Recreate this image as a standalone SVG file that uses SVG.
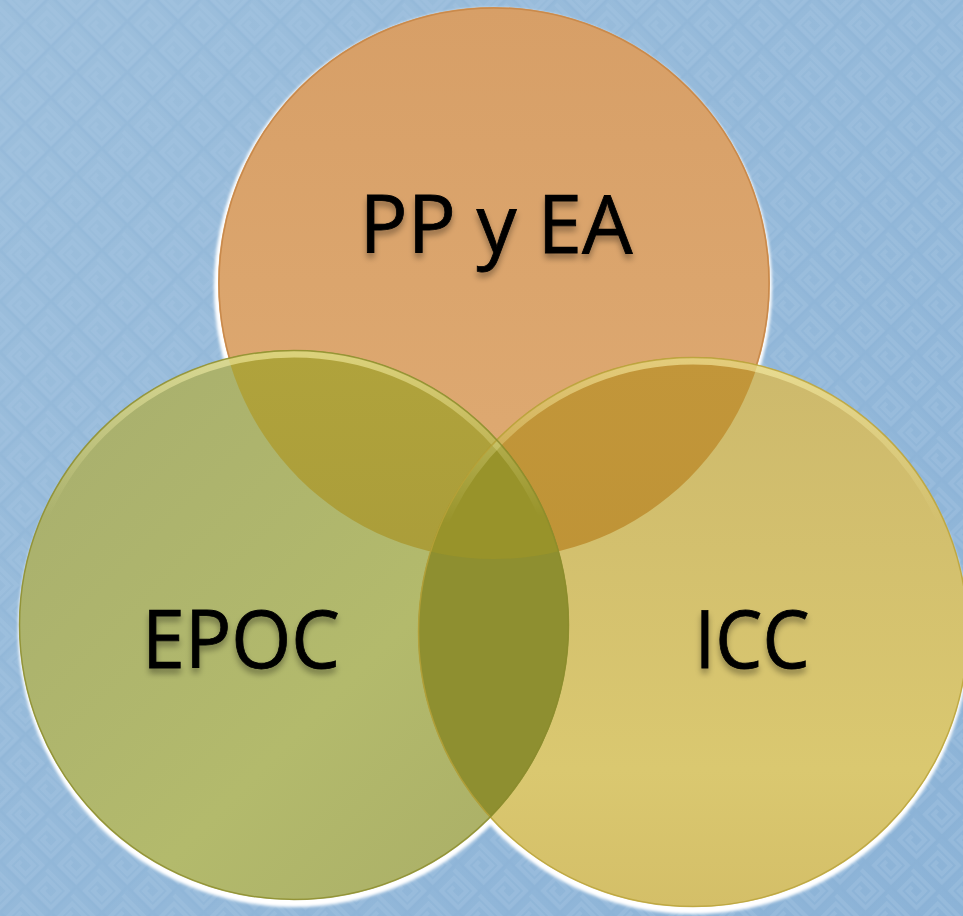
<svg xmlns="http://www.w3.org/2000/svg" width="963" height="916" viewBox="0 0 963 916">
  <defs>
    <linearGradient id="bgGrad" x1="0" y1="0" x2="1" y2="1">
      <stop offset="0" stop-color="#9dbfdc"/>
      <stop offset="1" stop-color="#8cb3d7"/>
    </linearGradient>
    <pattern id="maze" width="36" height="36" patternUnits="userSpaceOnUse" patternTransform="rotate(45)">
      <path d="M0 6 H30 V30 H6 V12 H24 V24 H12 V18" fill="none" stroke="#a6c6e1" stroke-width="4" opacity="0.35"/>
      <path d="M0 33 H36 M33 0 V36" fill="none" stroke="#88aed2" stroke-width="3" opacity="0.25"/>
    </pattern>
    <linearGradient id="gTop" x1="0" y1="0" x2="0" y2="1">
      <stop offset="0" stop-color="#d79f67"/>
      <stop offset="1" stop-color="#dfab73"/>
    </linearGradient>
    <linearGradient id="gLeft" x1="0" y1="0" x2="1" y2="1">
      <stop offset="0" stop-color="#a7ae6e"/>
      <stop offset="0.6" stop-color="#b3ba6c"/>
      <stop offset="1" stop-color="#a9ad66"/>
    </linearGradient>
    <linearGradient id="gRight" x1="0" y1="0" x2="0" y2="1">
      <stop offset="0" stop-color="#cdb96c"/>
      <stop offset="0.75" stop-color="#dac870"/>
      <stop offset="1" stop-color="#d4bf68"/>
    </linearGradient>
    <linearGradient id="gTL" x1="0" y1="0" x2="0" y2="1">
      <stop offset="0" stop-color="#b0a33c"/>
      <stop offset="1" stop-color="#a29436"/>
    </linearGradient>
    <linearGradient id="gTR" x1="0" y1="0" x2="0" y2="1">
      <stop offset="0" stop-color="#c2963a"/>
      <stop offset="1" stop-color="#ba9030"/>
    </linearGradient>
    <linearGradient id="hl" x1="0" y1="0" x2="0" y2="1">
      <stop offset="0" stop-color="#fff8b0" stop-opacity="0.55"/>
      <stop offset="0.3" stop-color="#fff8b0" stop-opacity="0"/>
    </linearGradient>
    <clipPath id="cTop"><circle cx="494" cy="283" r="276"/></clipPath>
    <clipPath id="cLeft"><circle cx="294" cy="625" r="275"/></clipPath>
    <clipPath id="cRight"><circle cx="693" cy="632" r="275"/></clipPath>
    <filter id="halo" x="-10%" y="-10%" width="120%" height="120%">
      <feGaussianBlur stdDeviation="1.5"/>
    </filter>
    <filter id="tshadow" x="-10%" y="-20%" width="120%" height="150%">
      <feGaussianBlur in="SourceAlpha" stdDeviation="3"/>
      <feOffset dy="5" result="b"/>
      <feComponentTransfer><feFuncA type="linear" slope="0.35"/></feComponentTransfer>
      <feMerge><feMergeNode/><feMergeNode in="SourceGraphic"/></feMerge>
    </filter>
    <style>
      .lbl { font-family: "Open Sans", "Liberation Sans", sans-serif; font-size: 81px; fill: #050503; text-anchor: middle; filter: url(#tshadow); stroke: #050503; stroke-width: 0.8; }
      .halo { fill: #ffffff; filter: url(#halo); }
      .edge { fill: none; stroke-width: 1.5; }
      .gloss { fill: none; stroke: url(#hl); stroke-width: 7; }
    </style>
  </defs>

  <rect x="0" y="0" width="963" height="916" fill="url(#bgGrad)"/>
  <rect x="0" y="0" width="963" height="916" fill="url(#maze)"/>

  <g id="halos">
    <circle class="halo" cx="493" cy="287" r="279"/>
    <circle class="halo" cx="294" cy="631" r="276"/>
    <circle class="halo" cx="693" cy="638" r="276"/>
  </g>

  <g id="node-pp">
    <circle cx="494" cy="283" r="276" fill="url(#gTop)"/>
    <circle class="edge" cx="494" cy="283" r="275" stroke="#c98a4c"/>
  </g>
  <g id="node-icc">
    <circle cx="693" cy="632" r="275" fill="url(#gRight)"/>
  </g>
  <g id="node-epoc">
    <circle cx="294" cy="625" r="275" fill="url(#gLeft)"/>
  </g>

  <g id="overlaps">
    <circle cx="294" cy="625" r="275" fill="url(#gTL)" clip-path="url(#cTop)"/>
    <circle cx="693" cy="632" r="275" fill="url(#gTR)" clip-path="url(#cTop)"/>
    <circle cx="693" cy="632" r="275" fill="#8e8f30" clip-path="url(#cLeft)"/>
    <g clip-path="url(#cTop)">
      <circle cx="693" cy="632" r="275" fill="#98932a" clip-path="url(#cLeft)"/>
    </g>
  </g>

  <g id="edges">
    <circle class="gloss" cx="693" cy="632" r="271"/>
    <circle class="gloss" cx="294" cy="625" r="271"/>
    <circle class="edge" cx="693" cy="632" r="274.5" stroke="#b9a23a" stroke-opacity="0.8"/>
    <circle class="edge" cx="294" cy="625" r="274.5" stroke="#8c8c2c" stroke-opacity="0.8"/>
  </g>

  <g id="labels">
    <text class="lbl" x="496" y="253" textLength="273" lengthAdjust="spacingAndGlyphs">PP y EA</text>
    <text class="lbl" x="241" y="668" textLength="198" lengthAdjust="spacingAndGlyphs">EPOC</text>
    <text class="lbl" x="752" y="668" textLength="115" lengthAdjust="spacingAndGlyphs">ICC</text>
  </g>
</svg>
